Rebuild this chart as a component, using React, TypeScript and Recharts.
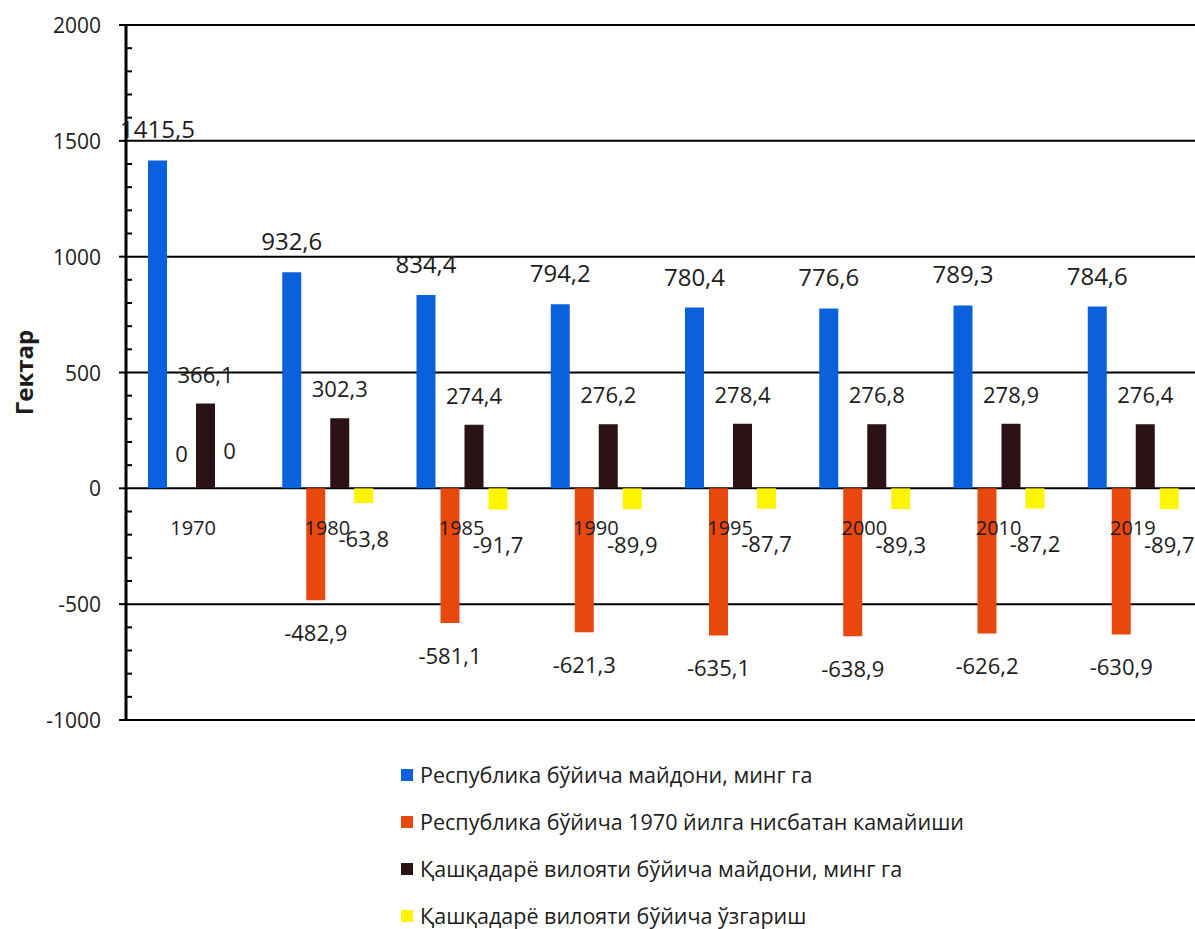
import {
  Bar,
  CartesianGrid,
  Cell,
  ComposedChart,
  LabelList,
  Legend,
  Line,
  XAxis,
  YAxis,
} from 'recharts';

const years = ['1970', '1980', '1985', '1990', '1995', '2000', '2010', '2019'];
const republicArea = [1415.5, 932.6, 834.4, 794.2, 780.4, 776.6, 789.3, 784.6];
const republicDecrease = [0, -482.9, -581.1, -621.3, -635.1, -638.9, -626.2, -630.9];
const kashkadaryaArea = [366.1, 302.3, 274.4, 276.2, 278.4, 276.8, 278.9, 276.4];
const kashkadaryaChange = [0, -63.8, -91.7, -89.9, -87.7, -89.3, -87.2, -89.7];

const majorTicks = [-1000, -500, 0, 500, 1000, 1500, 2000];
const minorTicks = [
  -1000, -900, -800, -700, -600, -500, -400, -300, -200, -100, 0, 100, 200, 300, 400, 500,
  600, 700, 800, 900, 1000, 1100, 1200, 1300, 1400, 1500, 1600, 1700, 1800, 1900, 2000,
];

const series = [
  { key: 'republicArea', name: 'Республика бўйича майдони, минг га', color: '#0b60dc', values: republicArea },
  { key: 'republicDecrease', name: 'Республика бўйича 1970 йилга нисбатан камайиши', color: '#e8470e', values: republicDecrease },
  { key: 'kashkadaryaArea', name: 'Қашқадарё вилояти бўйича майдони, минг га', color: '#2b1214', values: kashkadaryaArea },
  { key: 'kashkadaryaChange', name: 'Қашқадарё вилояти бўйича ўзгариш', color: '#fff500', values: kashkadaryaChange },
];

const font = "'Open Sans', 'Noto Sans', sans-serif";
const ink = '#1c1c1c';

const chartData = years.map((year, i) => ({
  year,
  republicArea: republicArea[i],
  republicDecrease: republicDecrease[i],
  kashkadaryaArea: kashkadaryaArea[i],
  kashkadaryaChange: kashkadaryaChange[i],
}));

const fmt = (v: unknown) => String(v).replace('.', ',');

// axis line sits tickSize + tickMargin to the right of the tick label anchor
const TICK_SIZE = 7;
const TICK_MARGIN = 18;

// eslint-disable-next-line @typescript-eslint/no-explicit-any
function YTick(props: any) {
  const { x, y, payload } = props;
  const axisX = x + TICK_SIZE + TICK_MARGIN;
  const major = payload.value % 500 === 0;
  if (!major) {
    return <line x1={axisX} x2={axisX + 6} y1={y} y2={y} stroke="#000" strokeWidth={2} />;
  }
  return (
    <g>
      <line x1={axisX - TICK_SIZE} x2={axisX} y1={y} y2={y} stroke="#000" strokeWidth={2} />
      <text
        x={x}
        y={y}
        textAnchor="end"
        dominantBaseline="central"
        fontFamily={font}
        fontSize={21}
        fill={ink}
      >
        {payload.value}
      </text>
    </g>
  );
}

// eslint-disable-next-line @typescript-eslint/no-explicit-any
function AxisTitle(props: any) {
  const { x, y, height } = props.viewBox;
  const cx = x + 23;
  const cy = y + height / 2;
  return (
    <text
      x={cx}
      y={cy}
      transform={`rotate(-90, ${cx}, ${cy})`}
      textAnchor="middle"
      dominantBaseline="central"
      fontFamily={font}
      fontWeight={700}
      fontSize={24}
      fill={ink}
    >
      Гектар
    </text>
  );
}

function LegendBox() {
  return (
    <div style={{ height: 209, boxSizing: 'border-box', paddingTop: 31, paddingLeft: 401 }}>
      {series.map((s) => (
        <div
          key={s.key}
          style={{
            height: 47,
            display: 'flex',
            alignItems: 'center',
            fontFamily: font,
            fontSize: 21.5,
            color: ink,
          }}
        >
          <span style={{ width: 12, height: 12, background: s.color, marginRight: 7 }} />
          {s.name}
        </div>
      ))}
    </div>
  );
}

const labelOffsets: Record<string, number> = {
  republicArea: 22,
  republicDecrease: 25,
  kashkadaryaArea: 21,
  kashkadaryaChange: 28,
};

export default function App() {
  return (
    <div
      style={{
        position: 'absolute',
        left: 0,
        top: 0,
        width: 1195,
        height: 929,
        overflow: 'hidden',
        background: '#fff',
      }}
    >
      <ComposedChart
        width={1200}
        height={929}
        data={chartData}
        margin={{ top: 25, right: 0, left: 0, bottom: 0 }}
        barSize={19}
        barGap={5}
      >
        <CartesianGrid
          vertical={false}
          horizontalValues={majorTicks}
          stroke="#000"
          strokeWidth={2}
        />
        <XAxis dataKey="year" hide />
        <YAxis
          domain={[-1000, 2000]}
          ticks={minorTicks}
          interval={0}
          width={126}
          tickSize={TICK_SIZE}
          tickMargin={TICK_MARGIN}
          axisLine={{ stroke: '#000', strokeWidth: 3 }}
          tickLine={false}
          tick={<YTick />}
          label={<AxisTitle />}
        />
        {series.map((s) => (
          <Bar
            key={s.key}
            dataKey={s.key}
            name={s.name}
            fill={s.color}
            minPointSize={(value: number) => (value === 0 ? 1 : 0)}
            isAnimationActive={false}
          >
            {s.values.map((v, i) => (
              <Cell key={i} fill={s.color} fillOpacity={v === 0 ? 0 : 1} />
            ))}
            <LabelList
              dataKey={s.key}
              position="top"
              offset={labelOffsets[s.key]}
              formatter={fmt}
              fill={ink}
              fontFamily={font}
              fontSize={s.key === 'republicArea' ? 24 : 22}
            />
          </Bar>
        ))}
        <Line
          dataKey={() => 0}
          stroke="none"
          dot={false}
          activeDot={false}
          legendType="none"
          isAnimationActive={false}
        >
          <LabelList
            dataKey="year"
            position="bottom"
            offset={32}
            fill={ink}
            fontFamily={font}
            fontSize={20}
          />
        </Line>
        <Legend verticalAlign="bottom" content={() => <LegendBox />} />
      </ComposedChart>
    </div>
  );
}
